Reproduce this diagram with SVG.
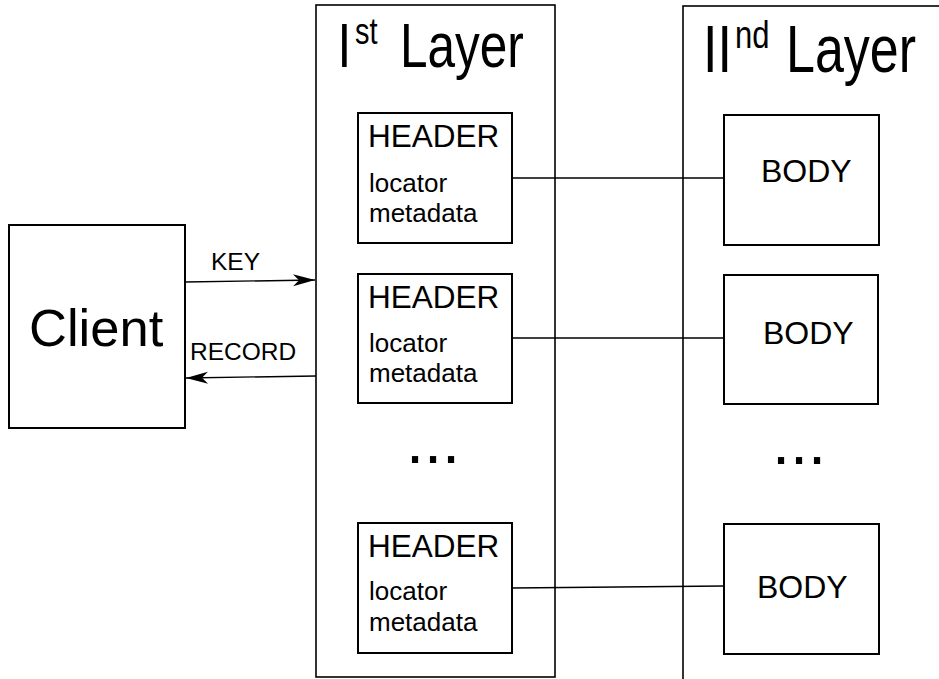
<svg xmlns="http://www.w3.org/2000/svg" width="939" height="679" viewBox="0 0 939 679">
<style>
text{font-family:"Liberation Sans",Arial,Helvetica,sans-serif;fill:#000}
.box{fill:none;stroke:#000;stroke-width:2}
.layer{fill:none;stroke:#000;stroke-width:1.6}
.conn{fill:none;stroke:#000;stroke-width:1.4}
.hd{font-size:31.5px}
.sm{font-size:26px}
.body{font-size:32px}
.lbl{font-size:24.5px}
.dots{font-size:65px}
</style>
<defs>
<marker id="arr" viewBox="-24 -8 26 16" refX="0" refY="0" markerWidth="26" markerHeight="16" markerUnits="userSpaceOnUse" orient="auto">
<path d="M0,0 L-22,-6 L-16,0 L-22,6 Z" fill="#000"/>
</marker>
</defs>
<rect width="939" height="679" fill="#fff"/>
<g id="layer1">
<rect class="layer" x="316" y="5" width="239" height="672"/>
<g transform="translate(0,67) scale(1,1.28)">
<text font-size="49.5"><tspan x="337.5" y="0">I</tspan><tspan x="355" y="-18" font-size="29">st</tspan><tspan x="400" y="0">Layer</tspan></text>
</g>
</g>
<g id="layer2">
<rect class="layer" x="683" y="6" width="300" height="700"/>
<g transform="translate(0,72) scale(1,1.28)">
<text font-size="52"><tspan x="703" y="0">II</tspan><tspan x="735" y="-19" font-size="31">nd</tspan><tspan x="786" y="0">Layer</tspan></text>
</g>
</g>
<g id="client">
<rect class="box" x="9" y="225" width="176" height="203"/>
<text x="29" y="346" font-size="52.5">Client</text>
</g>
<g id="header1">
<rect class="box" x="358" y="113" width="154" height="130"/>
<text class="hd" x="368" y="147">HEADER</text>
<text class="sm" x="369" y="192">locator</text>
<text class="sm" x="369" y="222">metadata</text>
</g>
<g id="header2">
<rect class="box" x="358" y="274" width="154" height="129"/>
<text class="hd" x="368" y="308">HEADER</text>
<text class="sm" x="369" y="352">locator</text>
<text class="sm" x="369" y="382">metadata</text>
</g>
<g id="header3">
<rect class="box" x="358" y="523" width="154" height="130"/>
<text class="hd" x="368" y="557">HEADER</text>
<text class="sm" x="369" y="600">locator</text>
<text class="sm" x="369" y="631">metadata</text>
</g>
<g id="body1">
<rect class="box" x="724" y="115" width="155" height="130"/>
<text class="body" x="761" y="182">BODY</text>
</g>
<g id="body2">
<rect class="box" x="724" y="275" width="154" height="129"/>
<text class="body" x="763" y="344">BODY</text>
</g>
<g id="body3">
<rect class="box" x="724" y="524" width="155" height="130"/>
<text class="body" x="757" y="598">BODY</text>
</g>
<g id="ellipsis1"><text class="dots" x="406" y="463">...</text></g>
<g id="ellipsis2"><text class="dots" x="772" y="464">...</text></g>
<g id="connectors">
<line class="conn" x1="185" y1="282" x2="315" y2="280" marker-end="url(#arr)"/>
<text class="lbl" x="211" y="270">KEY</text>
<line class="conn" x1="316" y1="376" x2="186" y2="378" marker-end="url(#arr)"/>
<text class="lbl" x="190" y="360" font-size="26">RECORD</text>
<line class="conn" x1="512" y1="178" x2="724" y2="178"/>
<line class="conn" x1="512" y1="338" x2="724" y2="338"/>
<line class="conn" x1="512" y1="588" x2="724" y2="586"/>
</g>
</svg>
